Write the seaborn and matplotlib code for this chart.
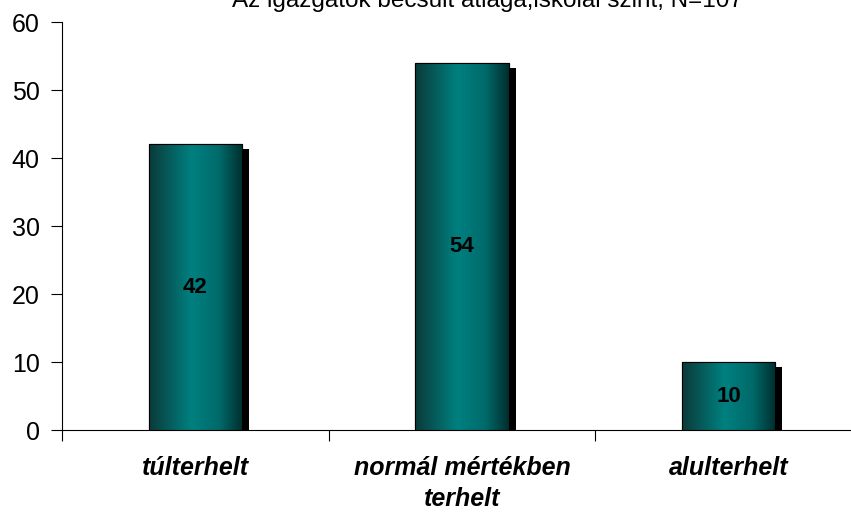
import matplotlib
matplotlib.use("Agg")
import matplotlib.pyplot as plt
import matplotlib.transforms as mtransforms
from matplotlib.colors import LinearSegmentedColormap
from matplotlib.patches import Rectangle
import numpy as np
import pandas as pd
import seaborn as sns

categories = ["túlterhelt", "normál mértékben\nterhelt", "alulterhelt"]
values = [42, 54, 10]
title = "Az igazgatók becsült átlaga,iskolai szint, N=107"

sns.set_style("white")
plt.rcParams["font.family"] = ["Liberation Sans", "DejaVu Sans"]
plt.rcParams["text.color"] = "black"
plt.rcParams["xtick.color"] = "black"
plt.rcParams["ytick.color"] = "black"

fig = plt.figure(figsize=(8.51, 5.12), dpi=100)
ax = fig.add_axes([62 / 851, 82 / 512, 800 / 851, 408 / 512])

df = pd.DataFrame({"cat": categories, "val": values})
sns.barplot(data=df, x="cat", y="val", color="#008080", width=0.35,
            edgecolor="black", linewidth=0.8, ax=ax, zorder=3)

teal = LinearSegmentedColormap.from_list(
    "teal", [(0, "#0b3a3a"), (0.45, "#008080"), (0.75, "#006a6a"), (1, "#002e2e")])
grad = np.linspace(0, 1, 256).reshape(1, -1)
shadow_off = mtransforms.ScaledTranslation(7 / 100, -5 / 100, fig.dpi_scale_trans)

for p in list(ax.patches):
    x0, y0, w, h = p.get_x(), p.get_y(), p.get_width(), p.get_height()
    sh = Rectangle((x0, y0), w, h, facecolor="black", edgecolor="none",
                   transform=ax.transData + shadow_off, zorder=2)
    ax.add_patch(sh)
    im = ax.imshow(grad, cmap=teal, aspect="auto", extent=(x0, x0 + w, y0, y0 + h),
                   zorder=3.5, interpolation="bicubic")
    im.set_clip_path(p)
    ax.add_patch(Rectangle((x0, y0), w, h, facecolor="none", edgecolor="black",
                           linewidth=0.8, zorder=3.8))
    ax.text(x0 + w / 2, h / 2, f"{h:.0f}", ha="center", va="center",
            fontsize=16, fontweight="bold", color="black", zorder=5)

ax.set_xlim(-0.5, 2.5)
ax.set_ylim(0, 60)
ax.set_yticks(range(0, 61, 10))
ax.set_xlabel("")
ax.set_ylabel("")
ax.tick_params(axis="y", labelsize=18, length=8, width=0.8, direction="out", left=True, pad=8)
ax.tick_params(axis="x", which="major", length=0, pad=19)
ax.set_xticks([-0.5, 0.5, 1.5, 2.5], minor=True)
ax.tick_params(axis="x", which="minor", length=8, width=0.8, direction="out", bottom=True)
for lab in ax.get_xticklabels():
    lab.set_fontsize(18)
    lab.set_fontweight("bold")
    lab.set_fontstyle("italic")
    lab.set_linespacing(1.35)
for s in ["top", "right"]:
    ax.spines[s].set_visible(False)
for s in ["left", "bottom"]:
    ax.spines[s].set_linewidth(0.8)
    ax.spines[s].set_color("black")

fig.text(487 / 851, 1 - 1 / 512, title, ha="center", va="center", fontsize=17.5)

fig.savefig("out.png", dpi=100)
